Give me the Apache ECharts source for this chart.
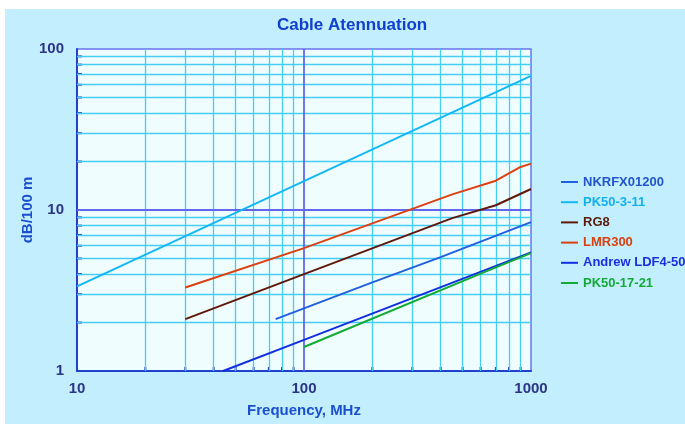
<!DOCTYPE html>
<html>
<head>
<meta charset="utf-8">
<script src="https://cdn.jsdelivr.net/npm/echarts@6/dist/echarts.min.js"></script>
<style>
  html, body { margin: 0; padding: 0; background: #ffffff; }
  #chart { position: absolute; left: 5px; top: 9px; width: 680px; height: 415px; background: #c3eefd; }
</style>
</head>
<body>
<div id="chart"></div>
<script>
// Attenuation (dB per 100 m) against frequency (MHz) for several coax cables
const nkrfxFreq = [75, 200, 400, 1000];
const nkrfxLoss = [2.1, 3.55, 5.1, 8.4];

const pk50_3_11Freq = [10, 100, 1000];
const pk50_3_11Loss = [3.35, 15.1, 68];

const rg8Freq = [30, 100, 450, 700, 1000];
const rg8Loss = [2.1, 4.0, 8.9, 10.7, 13.5];

const lmr300Freq = [30, 100, 450, 700, 900, 1000];
const lmr300Loss = [3.3, 5.8, 12.5, 15.2, 18.5, 19.4];

const ldf4Freq = [44, 100, 1000];
const ldf4Loss = [1.0, 1.56, 5.45];

const pk50_17_21Freq = [100, 650, 1000];
const pk50_17_21Loss = [1.41, 4.22, 5.4];

const seriesNames = ['NKRFX01200', 'PK50-3-11', 'RG8', 'LMR300', 'Andrew LDF4-50', 'PK50-17-21'];
const seriesColors = ['#2060e0', '#12b8f6', '#601808', '#dc4010', '#1030e0', '#12ac34'];
const legendTextColors = ['#2255cc', '#12b0ee', '#5a1a0a', '#d9400f', '#1a30dd', '#14a83a'];

// Minor grid positions (2..9 in each decade) and major decade lines
const xMinor = [20, 30, 40, 50, 60, 70, 80, 90, 200, 300, 400, 500, 600, 700, 800, 900];
const yMinor = [2, 3, 4, 5, 6, 7, 8, 9, 20, 30, 40, 50, 60, 70, 80, 90];
const xMajor = [100];
const yMajor = [10];

const freqTicks = [10, 100, 1000];
const lossTicks = [1, 10, 100];

const pair = (xs, ys) => xs.map((x, i) => [x, ys[i]]);
const dataSets = [
  pair(nkrfxFreq, nkrfxLoss),
  pair(pk50_3_11Freq, pk50_3_11Loss),
  pair(rg8Freq, rg8Loss),
  pair(lmr300Freq, lmr300Loss),
  pair(ldf4Freq, ldf4Loss),
  pair(pk50_17_21Freq, pk50_17_21Loss)
];

const minorStyle = { color: '#46cdf4', width: 1.3, type: 'solid' };
const majorStyle = { color: '#6068f0', width: 1.8, type: 'solid' };

const gridLines = [].concat(
  xMinor.map(v => ({ xAxis: v, lineStyle: minorStyle })),
  yMinor.map(v => ({ yAxis: v, lineStyle: minorStyle })),
  xMajor.map(v => ({ xAxis: v, lineStyle: majorStyle })),
  yMajor.map(v => ({ yAxis: v, lineStyle: majorStyle }))
);

const chart = echarts.init(document.getElementById('chart'), null, { renderer: 'canvas' });

const lineSeries = seriesNames.map((name, i) => ({
  name: name,
  type: 'line',
  data: dataSets[i],
  showSymbol: false,
  symbol: 'none',
  smooth: false,
  z: 5,
  lineStyle: { color: seriesColors[i], width: 2 },
  itemStyle: { color: seriesColors[i] },
  animation: false
}));

const plainNumber = v => String(Math.round(v));

chart.setOption({
  animation: false,
  title: {
    text: 'Cable Atennuation',
    left: 272,
    top: 8,
    padding: 0,
    textStyle: { color: '#1040d0', fontSize: 17, fontWeight: 'bold', fontFamily: 'Liberation Sans, Arial, sans-serif' }
  },
  grid: {
    left: 72, right: 154, top: 40, bottom: 53,
    show: true,
    backgroundColor: '#f0fdff',
    borderColor: '#6a74f0',
    borderWidth: 1.5
  },
  legend: {
    orient: 'vertical',
    left: 556,
    top: 166,
    padding: 0,
    icon: 'rect',
    itemWidth: 17,
    itemHeight: 2,
    itemGap: 6.2,
    textStyle: { fontSize: 13, fontWeight: 'bold', lineHeight: 14, fontFamily: 'Liberation Sans, Arial, sans-serif' },
    data: seriesNames.map((n, i) => ({ name: n, textStyle: { color: legendTextColors[i] } }))
  },
  xAxis: {
    type: 'log',
    logBase: 10,
    min: freqTicks[0],
    max: freqTicks[freqTicks.length - 1],
    name: 'Frequency, MHz',
    nameLocation: 'middle',
    nameGap: 32,
    nameMoveOverlap: false,
    nameTextStyle: { color: '#1a50d0', fontSize: 15, fontWeight: 'bold', fontFamily: 'Liberation Sans, Arial, sans-serif' },
    axisLine: { show: true, lineStyle: { color: '#2040d0', width: 2 } },
    axisTick: { show: false },
    splitLine: { show: false },
    axisLabel: { color: '#2b3585', fontSize: 15, fontWeight: 'bold', margin: 10, formatter: plainNumber, fontFamily: 'Liberation Sans, Arial, sans-serif' }
  },
  yAxis: {
    type: 'log',
    logBase: 10,
    min: lossTicks[0],
    max: lossTicks[lossTicks.length - 1],
    name: 'dB/100 m',
    nameLocation: 'middle',
    nameRotate: 90,
    nameGap: 42,
    nameMoveOverlap: false,
    nameTextStyle: { color: '#1a50d0', fontSize: 15, fontWeight: 'bold', fontFamily: 'Liberation Sans, Arial, sans-serif' },
    axisLine: { show: true, lineStyle: { color: '#2040d0', width: 2 } },
    axisTick: { show: false },
    splitLine: { show: false },
    axisLabel: { color: '#2b3585', fontSize: 15, fontWeight: 'bold', margin: 13, formatter: plainNumber, fontFamily: 'Liberation Sans, Arial, sans-serif' }
  },
  series: [
    {
      name: 'grid',
      type: 'line',
      data: [],
      z: 1,
      silent: true,
      markLine: {
        silent: true,
        symbol: ['none', 'none'],
        label: { show: false },
        emphasis: { disabled: true },
        animation: false,
        data: gridLines
      }
    },
    {
      name: 'yticks',
      type: 'scatter',
      z: 4,
      silent: true,
      clip: false,
      symbol: 'rect',
      symbolSize: [5, 2],
      symbolOffset: [2.5, 0],
      itemStyle: { color: '#2040d0', opacity: 1 },
      emphasis: { disabled: true },
      data: yMinor.map(v => [freqTicks[0], v])
    },
    {
      name: 'xticks',
      type: 'scatter',
      z: 4,
      silent: true,
      clip: false,
      symbol: 'rect',
      symbolSize: [2, 4],
      symbolOffset: [0, -2],
      itemStyle: { color: '#2040d0', opacity: 1 },
      emphasis: { disabled: true },
      data: xMinor.map(v => [v, lossTicks[0]])
    }
  ].concat(lineSeries)
});
</script>
</body>
</html>
